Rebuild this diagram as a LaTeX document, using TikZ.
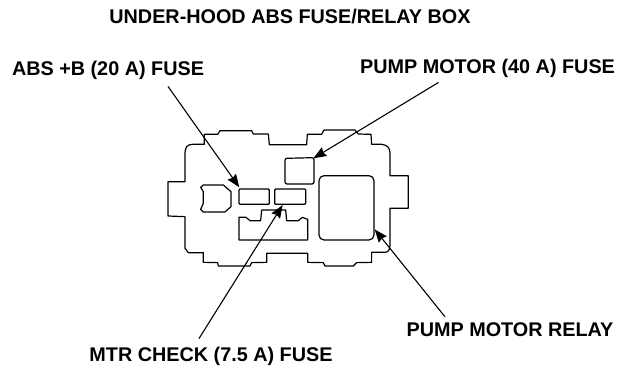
\documentclass[tikz,border=0pt]{standalone}
\usepackage{fontspec}
\setmainfont{Liberation Sans}
\usetikzlibrary{arrows.meta}
\tikzset{
  caption/.style={inner sep=0pt,font=\fontsize{19.8}{22}\selectfont\bfseries},
  pointer/.style={line width=1.1pt,-{Stealth[length=13pt,width=10pt,inset=1.5pt]}},
  box/.style={line width=1.2pt,line join=round}
}
\begin{document}
\begin{tikzpicture}[x=1pt,y=-1pt]
\useasboundingbox (0,0) rectangle (621,381);
\node[caption] (title) at (290,17) {UNDER-HOOD ABS FUSE/RELAY BOX};
\node[caption] (lblabs) at (108,70) {ABS +B (20 A) FUSE};
\node[caption] (lblpump) at (487.5,68) {PUMP MOTOR (40 A) FUSE};
\node[caption] (lblrelay) at (510,330) {PUMP MOTOR RELAY};
\node[caption] (lblmtr) at (211,356) {MTR CHECK (7.5 A) FUSE};
% box and its fuses, read off in 1/3 px
\begin{scope}[shift={(170,110)},x=0.3333pt,y=-0.3333pt]
\draw[box] (-6,215) -- (45,215) -- (45,130) .. controls (45,112) and (52,103) .. (68,103) -- (103,103) -- (103,73) -- (143,73) -- (150,62) -- (245,62) -- (250,72) -- (295,72) -- (298,104) -- (410,104) -- (412,73) -- (455,73) -- (462,60) -- (555,60) -- (565,72) -- (603,73) -- (605,103) -- (635,103) .. controls (652,105) and (660,113) .. (660,130) -- (660,197) -- (715,197) -- (715,295) -- (660,295) -- (660,405) .. controls (660,418) and (655,427) .. (645,427) -- (605,427) -- (605,457) -- (560,458) -- (550,468) -- (465,468) -- (460,458) -- (413,457) -- (413,430) -- (290,430) -- (290,457) -- (245,458) -- (240,468) -- (145,468) -- (143,458) -- (100,457) -- (100,428) -- (55,428) -- (45,415) -- (45,320) -- (-6,318) -- cycle;
\draw[box,rounded corners=2pt] (345,145) -- (432,143) -- (432,222) -- (345,222) -- cycle;
\draw[box,rounded corners=1pt] (207,237) rectangle (298,283);
\draw[box,rounded corners=1pt] (314,237) rectangle (407,283);
\draw[box,rounded corners=5pt] (447,197) rectangle (612,390);
\draw[box] (100,225) -- (160,225) -- (183,245) -- (183,290) -- (165,306) -- (100,306) -- (92,298) -- (100,280) -- (100,245) -- (92,232) -- cycle;
\draw[box] (207,390) -- (207,322) -- (228,322) -- (240,332) -- (272,332) -- (275,300) -- (347,300) -- (350,332) -- (385,332) -- (397,322) -- (413,328) -- (413,390) -- cycle;
\coordinate (tipabs) at (208,232);
\coordinate (tippump) at (430,145);
\coordinate (tipmtr) at (338,285);
\coordinate (tiprelay) at (614,358);
\end{scope}
\draw[pointer] ([xshift=60pt,yshift=-7pt]lblabs.south) -- (tipabs);
\draw[pointer] ([xshift=-49pt,yshift=-5pt]lblpump.south) -- (tippump);
\draw[pointer] ([xshift=-12pt,yshift=8pt]lblmtr.north) -- (tipmtr);
\draw[pointer] ([xshift=-65pt,yshift=6pt]lblrelay.north) -- (tiprelay);
\end{tikzpicture}
\end{document}
